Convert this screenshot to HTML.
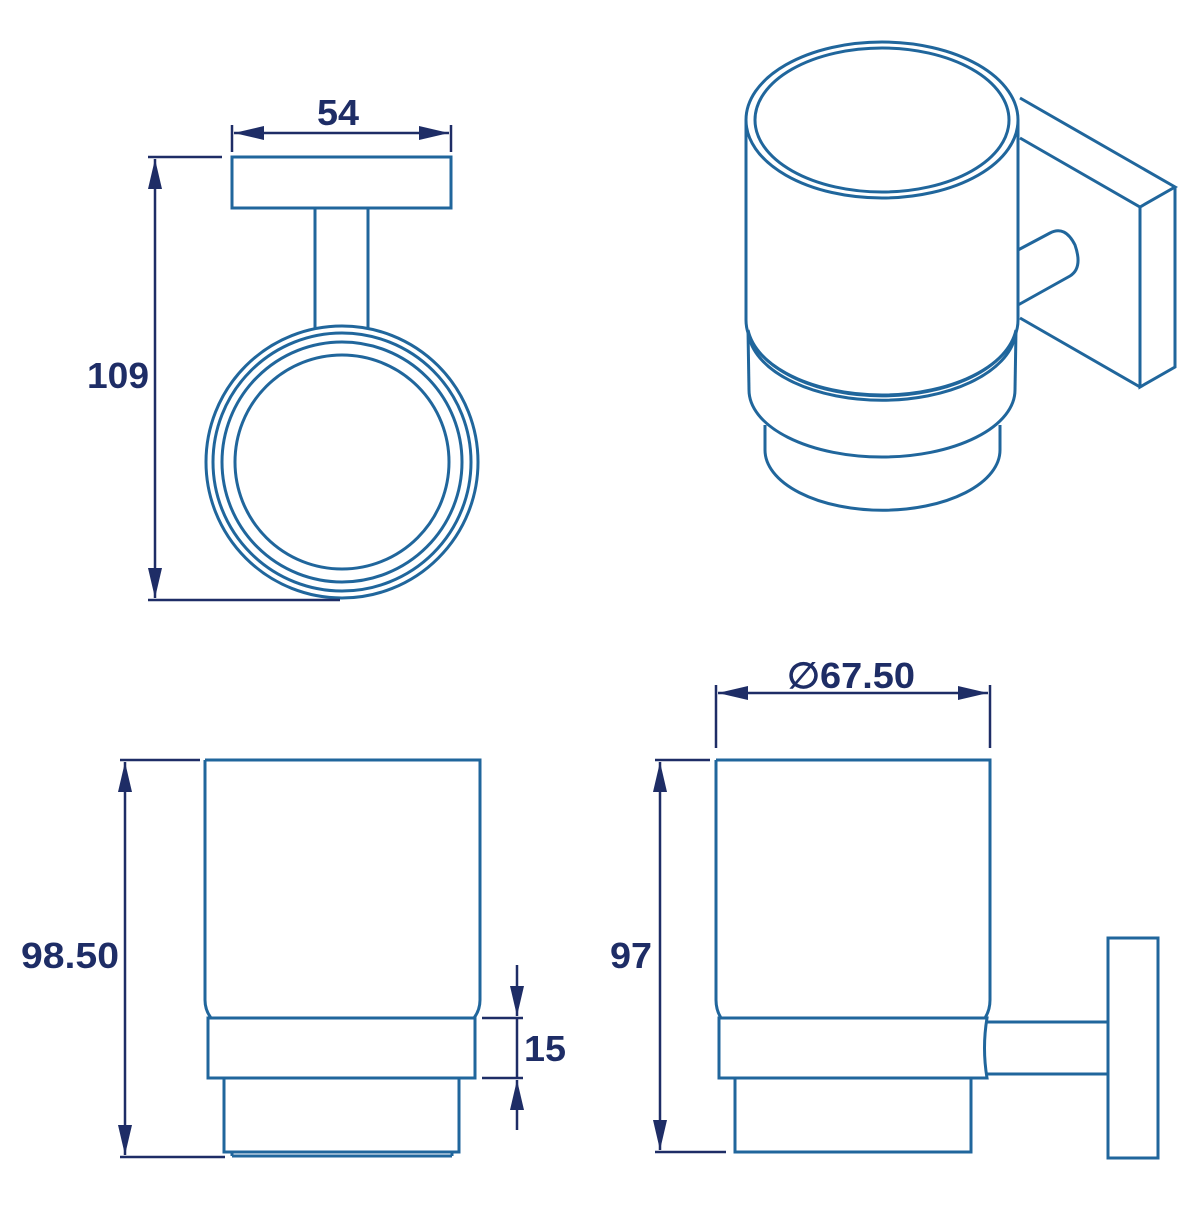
<!DOCTYPE html>
<html><head><style>html,body{margin:0;padding:0;background:#fff}</style></head>
<body>
<svg width="1200" height="1200" viewBox="0 0 1200 1200" xmlns="http://www.w3.org/2000/svg">
<defs>
<marker id="a" viewBox="0 0 30 14" refX="30" refY="7" markerWidth="30" markerHeight="14" markerUnits="userSpaceOnUse" orient="auto-start-reverse"><path d="M0,0L30,7L0,14z" fill="#1e2d66"/></marker>
</defs>
<g fill="none" stroke="#20669c" stroke-width="3">
<rect x="232" y="157" width="219" height="51"/>
<line x1="315" y1="208" x2="315" y2="328"/>
<line x1="368" y1="208" x2="368" y2="328"/>
<circle cx="342" cy="462" r="136"/>
<circle cx="342" cy="462" r="129"/>
<circle cx="342" cy="462" r="120"/>
<circle cx="342" cy="462" r="107"/>
<path d="M1020,98 L1175,187 L1140,207 L1020,138"/>
<path d="M1140,207 L1140,387 L1175,367 L1175,187"/>
<path d="M1140,387 L1020,318"/>
<path d="M1018,250 L1050,233 Q1065,225 1075,245 Q1083,268 1070,276 L1018,305"/>
<ellipse cx="882" cy="120" rx="136" ry="78" fill="#fff"/>
<ellipse cx="882" cy="120" rx="127" ry="72"/>
<line x1="746" y1="120" x2="746" y2="320"/>
<line x1="1018" y1="120" x2="1018" y2="320"/>
<path d="M746,320 A136,75 0 0 0 1018,320"/>
<path d="M748,330 A135,75 0 0 0 1016,330"/>
<path d="M749,337 A134,72 0 0 0 1015,337"/>
<line x1="748" y1="330" x2="749" y2="390"/>
<line x1="1016" y1="330" x2="1015" y2="390"/>
<path d="M749,390 A133,67 0 0 0 1015,390"/>
<line x1="765" y1="425" x2="765" y2="450"/>
<line x1="1000" y1="425" x2="1000" y2="450"/>
<path d="M765,450 A117,60 0 0 0 1000,450"/>
<path d="M205,760 L480,760 L480,1000 Q480,1010 474,1018 M205,760 L205,1000 Q205,1010 211,1018"/>
<rect x="208" y="1018" width="267" height="60"/>
<rect x="224" y="1078" width="235" height="74"/>
<line x1="232" y1="1156" x2="452" y2="1156"/>
<line x1="232" y1="1152" x2="232" y2="1156"/>
<line x1="452" y1="1152" x2="452" y2="1156"/>
<path d="M716,760 L990,760 L990,1000 Q990,1010 985,1018 M716,760 L716,1000 Q716,1010 721,1018"/>
<path d="M719,1018 L987,1018 Q982,1048 987,1078 L719,1078 Z"/>
<rect x="735" y="1078" width="236" height="74"/>
<line x1="987" y1="1022" x2="1108" y2="1022"/>
<line x1="987" y1="1074" x2="1108" y2="1074"/>
<rect x="1108" y="938" width="50" height="220"/>
</g>
<g fill="none" stroke="#1e2d66" stroke-width="2.5">
<line x1="232" y1="125" x2="232" y2="152"/><line x1="451" y1="125" x2="451" y2="152"/>
<line x1="234" y1="133" x2="449" y2="133" marker-start="url(#a)" marker-end="url(#a)"/>
<line x1="148" y1="157" x2="222" y2="157"/><line x1="148" y1="600" x2="340" y2="600"/>
<line x1="155" y1="159" x2="155" y2="598" marker-start="url(#a)" marker-end="url(#a)"/>
<line x1="120" y1="760" x2="200" y2="760"/><line x1="120" y1="1157" x2="225" y2="1157"/>
<line x1="125" y1="762" x2="125" y2="1155" marker-start="url(#a)" marker-end="url(#a)"/>
<line x1="482" y1="1018" x2="523" y2="1018"/><line x1="482" y1="1078" x2="523" y2="1078"/>
<line x1="517" y1="965" x2="517" y2="1016" marker-end="url(#a)"/>
<line x1="517" y1="1130" x2="517" y2="1080" marker-end="url(#a)"/>
<line x1="517" y1="1018" x2="517" y2="1078"/>
<line x1="716" y1="685" x2="716" y2="748"/><line x1="990" y1="685" x2="990" y2="748"/>
<line x1="718" y1="693" x2="988" y2="693" marker-start="url(#a)" marker-end="url(#a)"/>
<line x1="655" y1="760" x2="710" y2="760"/><line x1="655" y1="1152" x2="726" y2="1152"/>
<line x1="660" y1="762" x2="660" y2="1150" marker-start="url(#a)" marker-end="url(#a)"/>
</g>
<g fill="#1e2d66" font-family="Liberation Sans, sans-serif" font-weight="bold" font-size="36" text-anchor="middle">
<text x="338" y="125" textLength="42" lengthAdjust="spacingAndGlyphs">54</text>
<text x="118" y="388" textLength="62" lengthAdjust="spacingAndGlyphs">109</text>
<text x="70" y="968" textLength="98" lengthAdjust="spacingAndGlyphs">98.50</text>
<text x="545" y="1061" textLength="42" lengthAdjust="spacingAndGlyphs">15</text>
<text x="631" y="968" textLength="42" lengthAdjust="spacingAndGlyphs">97</text>
<text x="851" y="688" textLength="128" lengthAdjust="spacingAndGlyphs">∅67.50</text>
</g>
</svg>
</body></html>
